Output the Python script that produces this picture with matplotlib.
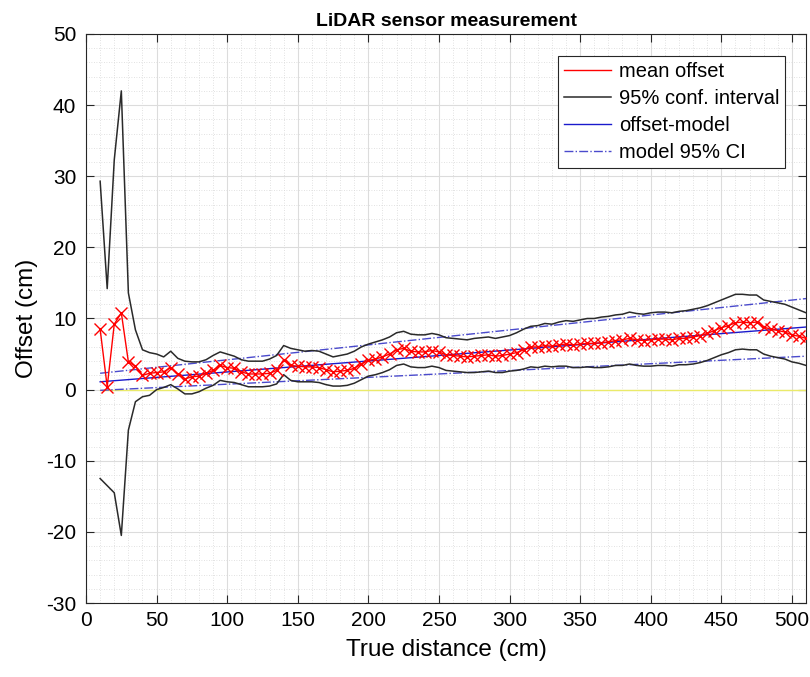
import numpy as np
import matplotlib
matplotlib.use("Agg")
import matplotlib.pyplot as plt
from matplotlib.ticker import MultipleLocator

plt.rcParams["axes.unicode_minus"] = False

# True distance (cm), one measurement every 5 cm
distance = list(range(10, 515, 5))

mean_offset = [
    8.5, 0.4, 9.2, 10.8, 3.9, 3.3, 2.0, 2.3, 2.4, 2.5,
    3.1, 2.2, 1.5, 1.8, 1.9, 2.3, 2.7, 3.4, 3.1, 3.0,
    2.5, 2.2, 2.2, 2.2, 2.3, 2.7, 4.2, 3.4, 3.3, 3.2,
    3.2, 3.1, 2.8, 2.5, 2.6, 2.7, 3.0, 3.6, 4.1, 4.3,
    4.6, 5.0, 5.6, 5.8, 5.4, 5.3, 5.3, 5.5, 5.3, 4.9,
    4.8, 4.7, 4.6, 4.7, 4.8, 4.9, 4.7, 4.8, 5.0, 5.2,
    5.6, 6.0, 6.0, 6.2, 6.1, 6.3, 6.4, 6.3, 6.4, 6.5,
    6.5, 6.6, 6.7, 6.9, 7.0, 7.2, 7.0, 6.9, 7.0, 7.1,
    7.1, 7.0, 7.2, 7.2, 7.4, 7.6, 7.9, 8.3, 8.7, 9.0,
    9.4, 9.5, 9.4, 9.5, 8.8, 8.5, 8.3, 8.1, 7.7, 7.5,
    7.2,
]

ci_upper = [
    29.3, 14.2, 32.3, 42.0, 13.6, 8.4, 5.6, 5.2, 5.0, 4.6,
    5.4, 4.4, 4.0, 3.9, 3.9, 4.2, 4.8, 5.3, 5.0, 4.7,
    4.2, 4.0, 4.0, 4.0, 4.3, 4.8, 6.2, 5.8, 5.6, 5.4,
    5.5, 5.4, 5.0, 4.6, 4.8, 5.0, 5.4, 6.0, 6.4, 6.7,
    7.0, 7.4, 8.0, 8.2, 7.8, 7.7, 7.7, 7.9, 7.7, 7.3,
    7.2, 7.1, 7.0, 7.2, 7.3, 7.4, 7.2, 7.4, 7.6, 8.0,
    8.5, 8.9, 9.0, 9.3, 9.2, 9.5, 9.7, 9.6, 9.8, 10.0,
    10.0, 10.2, 10.3, 10.5, 10.6, 10.9, 10.7, 10.6, 10.8, 10.9,
    10.9, 10.8, 11.0, 11.1, 11.3, 11.5, 11.8, 12.2, 12.6, 13.0,
    13.4, 13.4, 13.3, 13.3, 12.6, 12.4, 12.2, 12.0, 11.6, 11.2,
    10.8,
]

ci_lower = [
    -12.5, -13.5, -14.5, -20.5, -5.7, -1.7, -1.0, -0.8, 0.0, 0.3,
    0.7, 0.1, -0.6, -0.6, -0.3, 0.2, 0.6, 1.3, 1.1, 1.0,
    0.7, 0.4, 0.4, 0.4, 0.5, 0.8, 2.1, 1.3, 1.1, 1.1,
    1.1, 1.0, 0.7, 0.5, 0.5, 0.6, 0.9, 1.4, 1.9, 2.1,
    2.4, 2.8, 3.4, 3.6, 3.2, 3.1, 3.1, 3.3, 3.1, 2.7,
    2.6, 2.5, 2.4, 2.4, 2.5, 2.6, 2.4, 2.4, 2.6, 2.7,
    2.9, 3.2, 3.1, 3.3, 3.2, 3.3, 3.3, 3.1, 3.1, 3.2,
    3.1, 3.1, 3.2, 3.4, 3.4, 3.6, 3.4, 3.3, 3.3, 3.4,
    3.4, 3.3, 3.5, 3.5, 3.6, 3.8, 4.1, 4.5, 4.9, 5.2,
    5.6, 5.7, 5.6, 5.6, 5.0, 4.7, 4.5, 4.3, 3.9, 3.7,
    3.4,
]

# linear offset model and its 95% CI (straight lines)
model_x = [10, 510]
model_y = [1.1, 8.8]
model_ci_upper = [2.3, 12.8]
model_ci_lower = [-0.1, 4.7]
zero_line = [0, 0]

font = ["Liberation Sans", "DejaVu Sans"]

fig = plt.figure(figsize=(8.1, 6.77), dpi=100)
ax = fig.add_axes([0.1062, 0.1093, 0.8889, 0.8405])

ax.plot(model_x, zero_line, color="#eaea6a", lw=1.0, zorder=2)
ax.plot(distance, mean_offset, color="red", lw=1.0, label="mean offset", zorder=5)
ax.plot(distance, mean_offset, "x", color="red", ms=8, mew=1.0, zorder=5)
ax.plot(distance, ci_upper, color="#2a2a2a", lw=1.1, label="95% conf. interval", zorder=4)
ax.plot(distance, ci_lower, color="#2a2a2a", lw=1.1, zorder=4)
ax.plot(model_x, model_y, color="#1a1acc", lw=1.0, label="offset-model", zorder=3)
ax.plot(model_x, model_ci_upper, color="#4a4acc", lw=1.0, ls="-.", label="model 95% CI", zorder=3)
ax.plot(model_x, model_ci_lower, color="#4a4acc", lw=1.0, ls="-.", zorder=3)

ax.set_xlim(0, 510)
ax.set_ylim(-30, 50)
ax.xaxis.set_major_locator(MultipleLocator(50))
ax.xaxis.set_minor_locator(MultipleLocator(10))
ax.yaxis.set_major_locator(MultipleLocator(10))
ax.yaxis.set_minor_locator(MultipleLocator(2))
ax.grid(which="major", color="#dcdcdc", lw=0.8, ls="-")
ax.grid(which="minor", color="#d8d8d8", lw=0.6, ls=(0, (1, 2)))
ax.set_axisbelow(True)

ax.tick_params(which="major", direction="in", length=6, top=True, right=True,
               labelsize=15, color="#262626")
ax.tick_params(axis="y", which="major", pad=7)
ax.tick_params(axis="x", which="major", pad=6)
ax.tick_params(which="minor", length=0)
for lab in ax.get_xticklabels() + ax.get_yticklabels():
    lab.set_family(font)
for sp in ax.spines.values():
    sp.set_color("#262626")
    sp.set_linewidth(0.8)

ax.set_xlabel("True distance (cm)", fontsize=17.5, family=font, labelpad=6)
ax.set_ylabel("Offset (cm)", fontsize=17.5, family=font, labelpad=6)
ax.set_title("LiDAR sensor measurement", fontsize=14, fontweight="bold",
             family=font, pad=6)

leg = ax.legend(loc="upper left", bbox_to_anchor=(0.656, 0.962),
                prop={"family": font, "size": 14.5}, frameon=True, fancybox=False,
                handlelength=2.3, handletextpad=0.4, borderpad=0.3, labelspacing=0.4,
                borderaxespad=0.0)
leg.get_frame().set_edgecolor("#262626")
leg.get_frame().set_linewidth(0.8)
leg.get_frame().set_alpha(1.0)

fig.savefig("out.png", dpi=100)
